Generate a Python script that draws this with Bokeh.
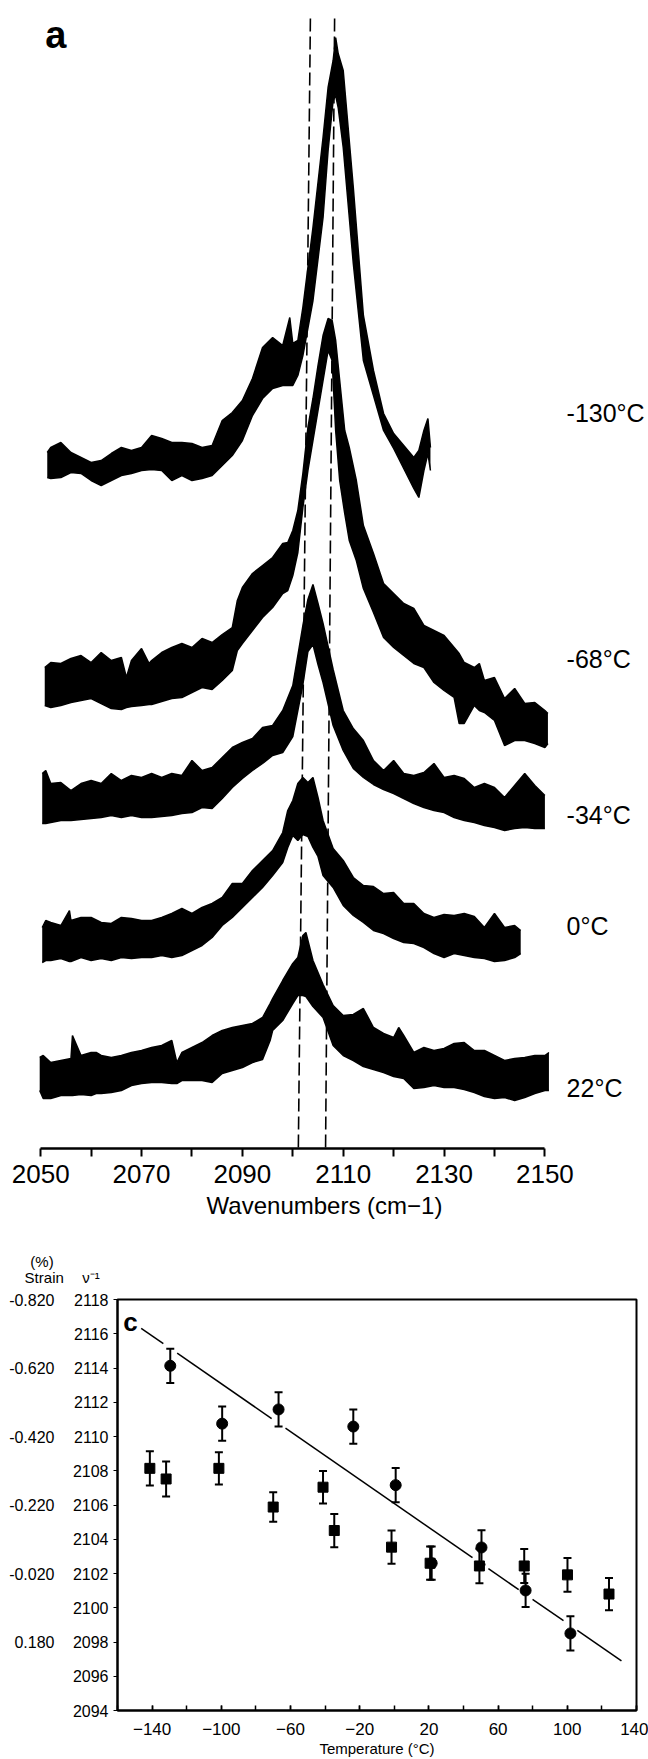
import numpy as np
from bokeh.plotting import figure
from bokeh.models import (Range1d, FixedTicker, LinearAxis, Label, Whisker,
                          ColumnDataSource, TeeHead, NumeralTickFormatter)
from bokeh.embed import file_html
from bokeh.resources import INLINE

FONT = "Liberation Sans"
INK = "black"

# ---------------- Panel a : spectra (upper / lower envelope of the noisy trace) ----------------
wn_m130 = [2051.3, 2052, 2054, 2056, 2058, 2060, 2062, 2064, 2066, 2068, 2070, 2072, 2074, 2076,
           2078, 2080, 2082, 2084, 2086, 2088, 2090, 2092, 2094, 2096, 2098, 2099.4, 2100, 2101,
           2102, 2104, 2106, 2107, 2108, 2108.5, 2109, 2110, 2112, 2114, 2116, 2118, 2120, 2122,
           2124, 2125, 2126, 2126.8, 2127.3]
hi_m130 = [696, 701, 706, 696, 691, 686, 688, 695, 701, 698, 701, 713, 710, 706, 706, 705, 701, 703,
           728, 736, 748, 770, 801, 811, 803, 831, 805, 808, 841, 921, 1011, 1061, 1088, 1111, 1095,
           1078, 961, 833, 778, 735, 715, 703, 691, 698, 718, 730, 701]
lo_m130 = [671, 670, 671, 676, 675, 668, 663, 668, 673, 675, 678, 679, 678, 668, 673, 668, 670, 673,
           683, 693, 708, 733, 750, 760, 763, 763, 763, 773, 793, 848, 931, 998, 1048, 1053, 1041,
           1001, 885, 788, 753, 718, 700, 680, 660, 651, 678, 695, 678]

wn_m68 = [2050.8, 2052, 2054, 2056, 2058, 2060, 2062, 2064, 2066, 2067, 2068, 2070, 2071.5, 2072,
          2074, 2076, 2078, 2080, 2082, 2084, 2086, 2088, 2089, 2090, 2092, 2094, 2096, 2098, 2099,
          2100, 2101, 2102, 2103, 2104, 2105, 2106, 2107, 2107.8, 2108.5, 2109.3, 2110.3, 2111.2,
          2112.6, 2114, 2116, 2118, 2120, 2122, 2124, 2126, 2128, 2130, 2132, 2133, 2134, 2136,
          2137, 2138, 2140, 2142, 2144, 2146, 2148, 2150, 2150.6]
hi_m68 = [481, 486, 485, 490, 493, 486, 496, 488, 491, 471, 488, 500, 485, 488, 496, 501, 505, 501,
          510, 506, 514, 521, 548, 561, 575, 583, 591, 605, 606, 618, 638, 675, 721, 750, 783, 813,
          830, 828, 808, 768, 718, 701, 668, 623, 595, 565, 555, 545, 540, 523, 518, 513, 501, 495,
          486, 481, 485, 468, 471, 450, 460, 445, 446, 438, 435]
lo_m68 = [443, 441, 443, 446, 448, 450, 445, 440, 439, 441, 442, 443, 444, 444, 447, 450, 451, 456,
          461, 459, 468, 478, 498, 505, 518, 531, 541, 555, 558, 573, 596, 641, 678, 708, 738, 768,
          798, 788, 718, 668, 635, 608, 588, 560, 536, 511, 501, 493, 485, 481, 466, 458, 451, 425,
          425, 443, 438, 436, 428, 403, 408, 408, 405, 401, 405]

wn_m34 = [2050.3, 2051, 2052, 2054, 2056, 2058, 2060, 2062, 2064, 2066, 2068, 2070, 2072, 2074,
          2076, 2078, 2080, 2082, 2084, 2086, 2088, 2090, 2092, 2094, 2096, 2098, 2100, 2102, 2103,
          2104, 2105, 2106, 2108, 2110, 2112, 2114, 2116, 2118, 2120, 2122, 2124, 2126, 2128, 2130,
          2132, 2134, 2136, 2138, 2140, 2142, 2144, 2146, 2148, 2150]
hi_m34 = [375, 378, 365, 366, 358, 365, 368, 365, 375, 368, 373, 371, 375, 371, 375, 373, 388, 378,
          381, 391, 401, 406, 410, 421, 423, 438, 463, 523, 549, 564, 545, 525, 479, 438, 420, 408,
          388, 378, 388, 375, 373, 376, 385, 371, 373, 370, 361, 365, 361, 351, 363, 375, 363, 353]
lo_m34 = [325, 325, 326, 328, 328, 329, 330, 331, 333, 331, 333, 331, 331, 332, 333, 335, 336, 341,
          340, 350, 361, 370, 378, 385, 393, 396, 412, 464, 497, 504, 484, 466, 423, 398, 380, 371,
          364, 359, 355, 350, 345, 341, 338, 336, 331, 328, 326, 323, 321, 318, 320, 321, 320, 320]

wn_0 = [2050.3, 2051, 2052, 2054, 2055.7, 2056, 2058, 2060, 2062, 2064, 2066, 2068, 2070, 2072,
        2074, 2076, 2078, 2080, 2082, 2084, 2086, 2088, 2090, 2092, 2094, 2096, 2098, 2099, 2100,
        2101, 2102, 2103, 2104, 2105, 2106, 2108, 2110, 2112, 2114, 2116, 2118, 2120, 2122, 2124,
        2126, 2128, 2130, 2132, 2134, 2136, 2138, 2140, 2142, 2144, 2145.2]
hi_0 = [221, 228, 226, 223, 238, 228, 231, 231, 226, 225, 231, 230, 228, 228, 231, 235, 240, 235,
        241, 245, 251, 265, 265, 278, 288, 298, 316, 338, 348, 365, 371, 366, 371, 351, 328, 300,
        288, 271, 263, 262, 255, 256, 245, 245, 235, 231, 234, 233, 235, 232, 221, 235, 221, 223, 218]
lo_0 = [186, 188, 188, 190, 187, 187, 191, 188, 190, 188, 191, 190, 191, 191, 193, 191, 193, 198,
        203, 211, 223, 231, 241, 251, 261, 273, 286, 301, 313, 308, 314, 312, 301, 292, 273, 261,
        243, 233, 226, 218, 215, 210, 206, 205, 201, 195, 191, 195, 193, 191, 190, 187, 188, 191, 195]

wn_22 = [2049.8, 2050.5, 2052, 2054, 2056, 2056.3, 2058, 2060, 2061, 2062, 2064, 2066, 2068, 2070,
         2072, 2074, 2076, 2077, 2078, 2080, 2082, 2084, 2086, 2088, 2090, 2092, 2094, 2095.5, 2096,
         2098, 2100, 2101, 2102, 2102.6, 2104, 2106, 2108, 2110, 2112, 2114, 2116, 2118, 2120,
         2121, 2122, 2124, 2126, 2128, 2130, 2132, 2134, 2136, 2138, 2140, 2142, 2144, 2146, 2148,
         2150, 2150.8]
hi_22 = [91, 93, 86, 88, 90, 113, 93, 96, 96, 93, 91, 93, 96, 98, 101, 103, 108, 86, 96, 101, 106,
         113, 118, 121, 123, 125, 131, 145, 150, 168, 185, 191, 213, 216, 188, 164, 143, 133, 134,
         140, 121, 115, 111, 121, 113, 96, 101, 98, 100, 105, 106, 98, 98, 93, 88, 90, 91, 93, 93, 96]
lo_22 = [58, 50, 50, 53, 53, 53, 54, 53, 55, 55, 56, 58, 63, 65, 66, 66, 65, 65, 68, 68, 68, 66, 75,
         78, 81, 86, 89, 108, 118, 128, 145, 153, 153, 152, 142, 131, 103, 93, 88, 82, 79, 76, 72,
         71, 70, 60, 61, 63, 61, 61, 59, 56, 52, 50, 51, 48, 51, 55, 58, 58]

temp_labels = ["-130°C", "-68°C", "-34°C", "0°C", "22°C"]
temp_label_level = [736, 490, 334, 223, 61]
ref_bottom = [2101.1, 2106.5]       # dashed peak-position guides (lower end)
ref_top = [2103.5, 2108.3]          # (upper end, slight skew of the original)
ref_span = [1, 1135]
wn_major = [2050, 2070, 2090, 2110, 2130, 2150]
wn_minor = [2060, 2080, 2100, 2120, 2140]

# ---------------- Panel c : peak position vs temperature ----------------
circ_T = [-129.5, -99.5, -66.9, -23.7, 0.8, 21.6, 50.4, 75.9, 101.8]
circ_nu = [2114.13, 2110.75, 2111.58, 2110.58, 2107.16, 2102.6, 2103.52, 2101.01, 2098.5]
circ_err = [1.0, 1.0, 1.0, 1.0, 1.0, 0.97, 1.0, 0.97, 1.0]
sq_T = [-141.3, -131.9, -101.4, -70.0, -41.2, -34.7, -1.6, 20.7, 49.2, 75.1, 100.1, 124.1]
sq_nu = [2108.14, 2107.52, 2108.14, 2105.88, 2107.04, 2104.51, 2103.54, 2102.6, 2102.44,
         2102.44, 2101.92, 2100.8]
sq_err = [1.0, 1.02, 0.94, 0.86, 0.95, 0.97, 0.97, 0.97, 1.01, 0.99, 0.98, 0.94]
fit_T = [-146.3, 131.3]
fit_nu = [2116.32, 2096.9]
nu_ticks = [2094, 2096, 2098, 2100, 2102, 2104, 2106, 2108, 2110, 2112, 2114, 2116, 2118]
strain_ticks = [-0.82, -0.62, -0.42, -0.22, -0.02, 0.18]
T_major = [-140, -100, -60, -20, 20, 60, 100, 140]
T_minor = [-160, -120, -80, -40, 0, 40, 80, 120]

# ======================= figure a =======================
# frame spans the full width; the axis is bounded to 2050-2150
px_per_wn = 5.042
x_lo = 2050 - 40.2 / px_per_wn
x_hi = 2050 + (648 - 40.2) / px_per_wn
pa = figure(width=648, height=1240, x_range=Range1d(x_lo, x_hi), y_range=Range1d(0, 1148),
            output_backend="svg", toolbar_location=None, y_axis_location=None,
            min_border_left=0, min_border_right=0, min_border_top=0, min_border_bottom=92,
            outline_line_color=None)
pa.grid.visible = False
for wn, hi, lo in [(wn_m130, hi_m130, lo_m130), (wn_m68, hi_m68, lo_m68),
                   (wn_m34, hi_m34, lo_m34), (wn_0, hi_0, lo_0), (wn_22, hi_22, lo_22)]:
    pa.varea(x=wn, y1=lo, y2=hi, fill_color=INK)
    pa.line(x=wn, y=hi, line_color=INK, line_width=1.5)
    pa.line(x=wn, y=lo, line_color=INK, line_width=1.5)

pa.segment(x0=ref_bottom, y0=[ref_span[0]] * 2, x1=ref_top, y1=[ref_span[1]] * 2,
           line_color=INK, line_width=1.6, line_dash="13 5")

xa = pa.xaxis[0]
xa.bounds = (2050, 2150)
xa.ticker = FixedTicker(ticks=wn_major, minor_ticks=wn_minor)
xa.axis_line_width = 2.5
xa.axis_line_color = INK
xa.major_tick_line_color = INK
xa.minor_tick_line_color = INK
xa.major_tick_line_width = 2
xa.minor_tick_line_width = 2
xa.major_tick_in = 0
xa.major_tick_out = 8
xa.minor_tick_in = 0
xa.minor_tick_out = 8
xa.major_label_standoff = 8
xa.major_label_text_font = FONT
xa.major_label_text_font_size = "26px"
xa.major_label_text_color = INK
xa.axis_label = "Wavenumbers (cm−1)"
xa.axis_label_text_font = FONT
xa.axis_label_text_font_size = "24px"
xa.axis_label_text_font_style = "normal"
xa.axis_label_text_color = INK
xa.axis_label_standoff = 6

for txt, lev in zip(temp_labels, temp_label_level):
    pa.add_layout(Label(x=2154.3, y=lev, text=txt, text_font=FONT, text_font_size="25px",
                        text_align="left", text_baseline="middle", text_color=INK))
pa.add_layout(Label(x=2050.9, y=1114, text="a", text_font=FONT, text_font_size="38px",
                    text_font_style="bold", text_align="left", text_baseline="alphabetic",
                    text_color=INK))

# ======================= header of panel c (column titles of the two scales) =======================
ph = figure(width=648, height=45, x_range=Range1d(0, 648), y_range=Range1d(0, 45),
            output_backend="svg", toolbar_location=None, x_axis_location=None,
            y_axis_location=None, min_border_left=0, min_border_right=0, min_border_top=0,
            min_border_bottom=0, outline_line_color=None)
ph.grid.visible = False
ph.add_layout(Label(x=41.5, y=24, text="(%)", text_font=FONT, text_font_size="15px",
                    text_align="center", text_baseline="middle", text_color=INK))
ph.add_layout(Label(x=63.3, y=8, text="Strain", text_font=FONT, text_font_size="15px",
                    text_align="right", text_baseline="middle", text_color=INK))
ph.add_layout(Label(x=81.7, y=8, text="ν⁻¹", text_font=FONT, text_font_size="15px",
                    text_align="left", text_baseline="middle", text_color=INK))

# ======================= figure c =======================
pc = figure(width=648, height=474, x_range=Range1d(-160, 140), y_range=Range1d(2094, 2118),
            output_backend="svg", toolbar_location=None,
            min_border_left=117, min_border_right=12, min_border_top=14, min_border_bottom=47,
            outline_line_color=INK, outline_line_width=2)
pc.grid.visible = False
pc.extra_y_ranges = {"strain": Range1d(start=0.38, end=-0.82)}

# fitted line, broken where it crosses an error bar (as in the original)
all_T = circ_T + sq_T
all_nu = circ_nu + sq_nu
all_err = circ_err + sq_err
gaps = []
for t, n, e in zip(all_T, all_nu, all_err):
    ln = np.interp(t, fit_T, fit_nu)
    if fit_T[0] <= t <= fit_T[1] and n - e - 0.1 <= ln <= n + e + 0.1:
        gaps.append((t - 4, t + 4))
gaps.sort()
merged = []
for g in gaps:
    if merged and g[0] <= merged[-1][1]:
        merged[-1] = (merged[-1][0], max(merged[-1][1], g[1]))
    else:
        merged.append(g)
xs, ys = [], []
cur = fit_T[0]
for g0, g1 in merged:
    xs.append([cur, g0])
    ys.append(list(np.interp([cur, g0], fit_T, fit_nu)))
    cur = g1
xs.append([cur, fit_T[1]])
ys.append(list(np.interp([cur, fit_T[1]], fit_T, fit_nu)))
pc.multi_line(xs=xs, ys=ys, line_color=INK, line_width=1.5)

src_c = ColumnDataSource(dict(T=circ_T, nu=circ_nu,
                              up=[a + b for a, b in zip(circ_nu, circ_err)],
                              lo=[a - b for a, b in zip(circ_nu, circ_err)]))
src_s = ColumnDataSource(dict(T=sq_T, nu=sq_nu,
                              up=[a + b for a, b in zip(sq_nu, sq_err)],
                              lo=[a - b for a, b in zip(sq_nu, sq_err)]))
for src in (src_c, src_s):
    pc.add_layout(Whisker(source=src, base="T", upper="up", lower="lo", dimension="height",
                          line_color=INK, line_width=2,
                          upper_head=TeeHead(size=8, line_width=2, line_color=INK),
                          lower_head=TeeHead(size=8, line_width=2, line_color=INK)))
pc.scatter(x="T", y="nu", source=src_c, marker="circle", size=11, fill_color=INK,
           line_color=INK)
pc.scatter(x="T", y="nu", source=src_s, marker="square", size=10, fill_color=INK,
           line_color=INK)

ya = pc.yaxis[0]
ya.ticker = FixedTicker(ticks=nu_ticks)
ya.axis_line_width = 2
ya.axis_line_color = INK
ya.major_tick_line_color = INK
ya.major_tick_in = 0
ya.major_tick_out = 4
ya.minor_tick_line_color = None
ya.major_label_standoff = 5
ya.major_label_text_font = FONT
ya.major_label_text_font_size = "16px"
ya.major_label_text_color = INK

sa = LinearAxis(y_range_name="strain", ticker=FixedTicker(ticks=strain_ticks),
                formatter=NumeralTickFormatter(format="0.000"),
                axis_line_color=None, major_tick_line_color=None, minor_tick_line_color=None,
                major_label_standoff=9, major_label_text_font=FONT,
                major_label_text_font_size="16px", major_label_text_color=INK)
pc.add_layout(sa, "left")

xc = pc.xaxis[0]
xc.ticker = FixedTicker(ticks=T_major, minor_ticks=T_minor + T_major)
xc.axis_line_width = 2
xc.axis_line_color = INK
xc.major_tick_line_color = INK
xc.minor_tick_line_color = INK
xc.major_tick_in = 5
xc.major_tick_out = 0
xc.minor_tick_in = 5
xc.minor_tick_out = 0
xc.major_tick_line_width = 1.5
xc.minor_tick_line_width = 1.5
xc.major_label_standoff = 12
xc.major_label_text_font = FONT
xc.major_label_text_font_size = "17px"
xc.major_label_text_color = INK
xc.axis_label = "Temperature (°C)"
xc.axis_label_text_font = FONT
xc.axis_label_text_font_size = "15px"
xc.axis_label_text_font_style = "normal"
xc.axis_label_text_color = INK
xc.axis_label_standoff = 2

pc.add_layout(Label(x=-156.7, y=2116.68, text="c", text_font=FONT, text_font_size="26px",
                    text_font_style="bold", text_align="left", text_baseline="alphabetic",
                    text_color=INK))

open("out.html", "w").write(file_html([pa, ph, pc], INLINE))
